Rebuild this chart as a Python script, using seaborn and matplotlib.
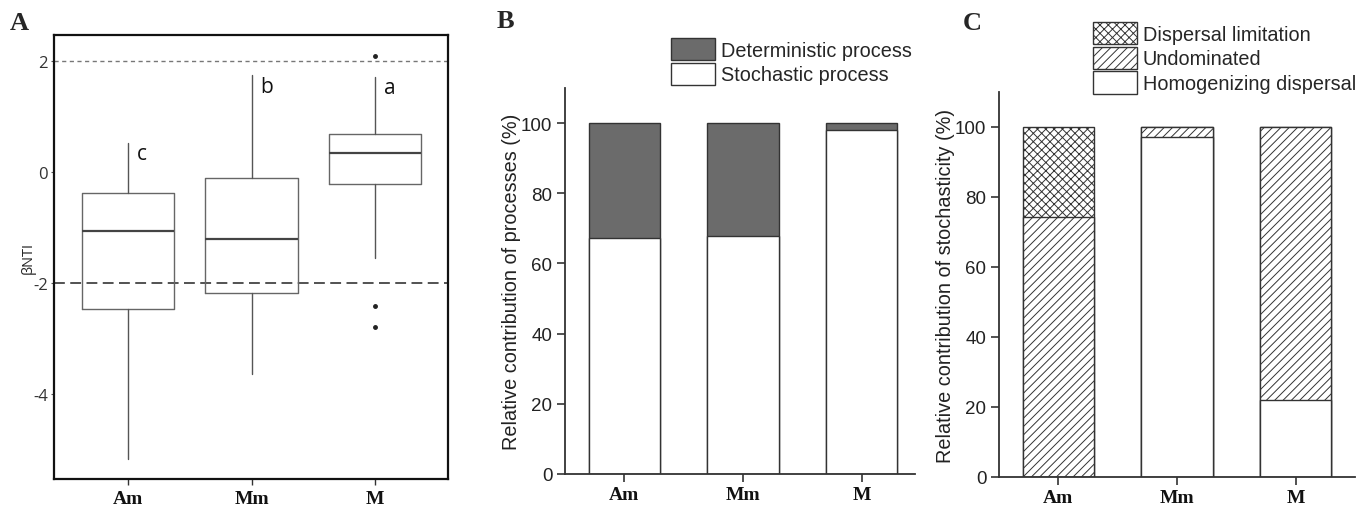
import numpy as np
import pandas as pd
import matplotlib
matplotlib.use("Agg")
import matplotlib.pyplot as plt
import seaborn as sns
from matplotlib.patches import Patch

sns.set_theme(style="white")
plt.rcParams['font.family'] = ['Liberation Sans', 'DejaVu Sans']
plt.rcParams['hatch.linewidth'] = 0.7
plt.rcParams['hatch.color'] = '#333333'

# ---------------- data ----------------
groups = ["Am", "Mm", "M"]

# Panel A: betaNTI box statistics
box_whislo = [-5.17, -3.64, -1.55]
box_q1 = [-2.46, -2.17, -0.22]
box_med = [-1.07, -1.21, 0.34]
box_q3 = [-0.37, -0.10, 0.69]
box_whishi = [0.53, 1.75, 1.72]
box_fliers = [[], [], [2.10, -2.41, -2.79]]
sig_letters = ["c", "b", "a"]
thresholds = [2, -2]

# Panel B: relative contribution of processes (%)
stochastic = [67.3, 67.8, 97.9]
deterministic = [32.7, 32.2, 2.1]

# Panel C: relative contribution of stochasticity (%)
homogenizing = [0.0, 97.1, 22.0]
undominated = [74.4, 2.9, 78.0]
dispersal_lim = [25.6, 0.0, 0.0]

W, H = 1368, 506
fig = plt.figure(figsize=(W / 100, H / 100), dpi=100)

def fr(l, t, r, b):
    return [l / W, 1 - b / H, (r - l) / W, (b - t) / H]

axA = fig.add_axes(fr(54, 36, 448, 480))
axB = fig.add_axes(fr(565, 89, 915, 475))
axC = fig.add_axes(fr(999, 93, 1355, 478))

serif_bold = dict(family=['Liberation Serif', 'DejaVu Serif'], weight='bold')

# ---------------- Panel A ----------------
stats = []
for i, g in enumerate(groups):
    stats.append(dict(label=g, whislo=box_whislo[i], q1=box_q1[i], med=box_med[i],
                      q3=box_q3[i], whishi=box_whishi[i], fliers=box_fliers[i]))
axA.bxp(stats, positions=range(len(groups)), widths=0.75, showcaps=False,
        boxprops=dict(color='#666666', linewidth=1.0),
        whiskerprops=dict(color='#555555', linewidth=1.0),
        medianprops=dict(color='#444444', linewidth=1.6),
        flierprops=dict(marker='o', markersize=2.5, markerfacecolor='#222222',
                        markeredgecolor='#222222'))
axA.axhline(thresholds[0], color='#777777', linestyle=(0, (3, 2.5)), linewidth=1.0, zorder=0)
axA.axhline(thresholds[1], color='#444444', linestyle=(0, (6, 3)), linewidth=1.3, zorder=0)
for i, let in enumerate(sig_letters):
    axA.text(i + 0.07, box_whishi[i] - 0.2, let, fontsize=15, ha='left', va='center',
             family=['Open Sans', 'DejaVu Sans'], color='#111111')
axA.set_xlim(-0.6, 2.59)
axA.set_ylim(-5.53, 2.47)
axA.set_yticks([-4, -2, 0, 2])
axA.set_yticklabels(['-4', '-2', '0', '2'], fontsize=12, color='#333333',
                    family=['Open Sans', 'DejaVu Sans'])
axA.set_xticks(range(len(groups)))
axA.set_xticklabels(groups, fontsize=14, color='#111111', **serif_bold)
axA.tick_params(axis='y', length=2.5, width=0.8, color='#555555', direction='out',
                pad=2, left=True)
axA.tick_params(axis='x', length=4, width=1, color='#333333', direction='out', pad=4,
                bottom=True)
axA.set_ylabel('βNTI', fontsize=10.5, labelpad=-2, family=['Open Sans', 'DejaVu Sans'])
for s in axA.spines.values():
    s.set_color('#111111')
    s.set_linewidth(1.6)
axA.set_xlabel('')

# ---------------- Panel B ----------------
dfB = pd.DataFrame({'group': groups, 'stochastic': stochastic,
                    'total': np.array(stochastic) + np.array(deterministic)})
edge = '#333333'
sns.barplot(data=dfB, x='group', y='total', color='#6b6b6b', saturation=1, width=0.6,
            edgecolor=edge, linewidth=1.0, ax=axB)
sns.barplot(data=dfB, x='group', y='stochastic', color='white', saturation=1, width=0.6,
            edgecolor=edge, linewidth=1.0, ax=axB)

# ---------------- Panel C ----------------
cum1 = np.array(homogenizing)
cum2 = cum1 + np.array(undominated)
cum3 = cum2 + np.array(dispersal_lim)
dfC = pd.DataFrame({'group': groups, 'c1': cum1, 'c2': cum2, 'c3': cum3})
sns.barplot(data=dfC, x='group', y='c3', color='white', saturation=1, width=0.6,
            edgecolor=edge, linewidth=1.0, hatch='xxxx', ax=axC)
sns.barplot(data=dfC, x='group', y='c2', color='white', saturation=1, width=0.6,
            edgecolor=edge, linewidth=1.0, hatch='////', ax=axC)
sns.barplot(data=dfC, x='group', y='c1', color='white', saturation=1, width=0.6,
            edgecolor=edge, linewidth=1.0, ax=axC)

for ax, ylab, xr in [(axB, 'Relative contribution of processes (%)', (-0.5, 2.45)),
                     (axC, 'Relative contribution of stochasticity (%)', (-0.5, 2.5))]:
    ax.set_xlim(*xr)
    ax.set_ylim(0, 110)
    ax.set_yticks([0, 20, 40, 60, 80, 100])
    ax.set_yticklabels(['0', '20', '40', '60', '80', '100'], fontsize=13.5, color='#222222')
    ax.set_xticks(range(len(groups)))
    ax.set_xticklabels(groups, fontsize=14, color='#111111', **serif_bold)
    ax.set_xlabel('')
    ax.set_ylabel(ylab, fontsize=14.3, color='#222222', labelpad=0)
    ax.tick_params(axis='both', direction='out', length=6, width=1.2, color='#333333',
                   left=True, bottom=True, pad=3)
    for side in ['top', 'right']:
        ax.spines[side].set_visible(False)
    for side in ['left', 'bottom']:
        ax.spines[side].set_color('#333333')
        ax.spines[side].set_linewidth(1.3)

# legends
leg_kw = dict(loc='upper left', frameon=False, fontsize=14.3, handlelength=2.2,
              handleheight=1.35, labelspacing=0.12, handletextpad=0.3, borderpad=0,
              borderaxespad=0)
handlesB = [Patch(facecolor='#6b6b6b', edgecolor=edge, linewidth=1.0),
            Patch(facecolor='white', edgecolor=edge, linewidth=1.0)]
fig.legend(handlesB, ['Deterministic process', 'Stochastic process'],
           bbox_to_anchor=(671 / W, 1 - 39 / H), **leg_kw)
handlesC = [Patch(facecolor='white', edgecolor=edge, linewidth=1.0, hatch='xxxx'),
            Patch(facecolor='white', edgecolor=edge, linewidth=1.0, hatch='////'),
            Patch(facecolor='white', edgecolor=edge, linewidth=1.0)]
fig.legend(handlesC, ['Dispersal limitation', 'Undominated', 'Homogenizing dispersal'],
           bbox_to_anchor=(1093 / W, 1 - 23 / H), **leg_kw)

# panel letters
fig.text(10 / W, 1 - 23 / H, 'A', fontsize=19, va='center', ha='left', **serif_bold)
fig.text(497 / W, 1 - 21 / H, 'B', fontsize=19, va='center', ha='left', **serif_bold)
fig.text(963 / W, 1 - 24 / H, 'C', fontsize=19, va='center', ha='left', **serif_bold)

fig.savefig('out.png', dpi=100)
